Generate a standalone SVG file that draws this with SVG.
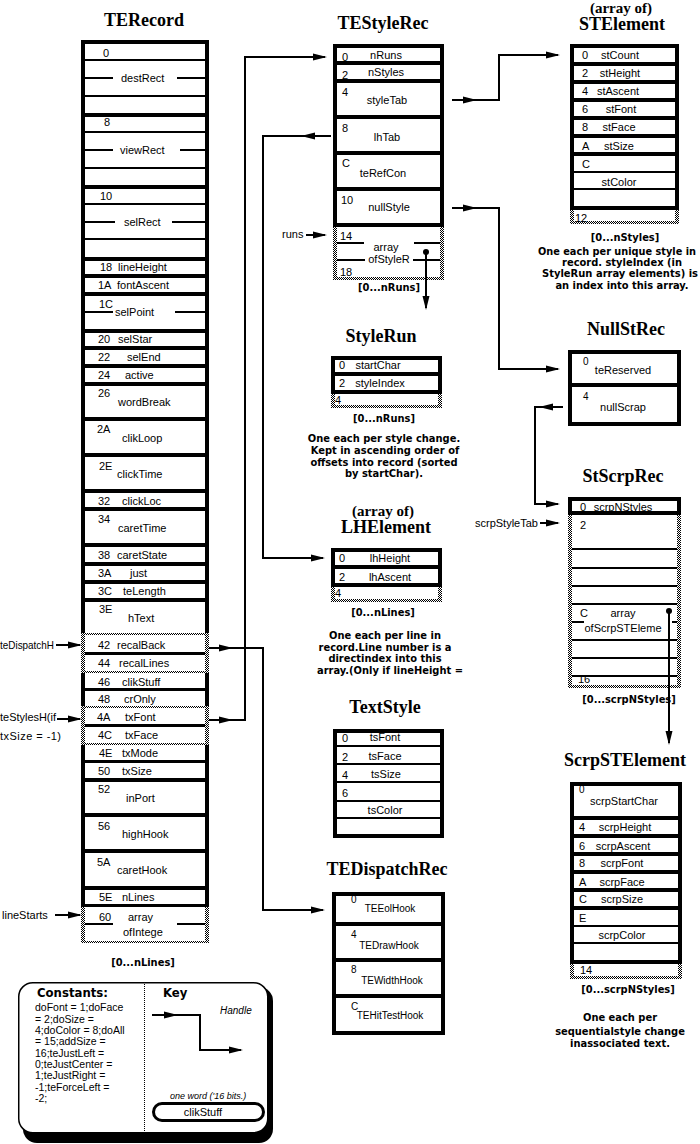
<svg xmlns="http://www.w3.org/2000/svg" width="700" height="1144" viewBox="0 0 700 1144">
<defs>
<pattern id="g" width="2" height="2" patternUnits="userSpaceOnUse"><rect width="1" height="1" fill="#000"/><rect x="1" y="1" width="1" height="1" fill="#000"/></pattern>
<path id="ah" d="M0,0 L-14,-3.5 L-14,3.5 Z"/>
</defs>
<style>
text{font-family:"Liberation Sans",Arial,sans-serif;font-size:11px;fill:#000}
.m{text-anchor:middle}
.s10{font-size:10px}
.ti{font-family:"Liberation Serif","Times New Roman",serif;font-weight:bold;font-size:18px;text-anchor:middle}
.sub{font-size:15px}
.b{font-family:"DejaVu Sans Condensed","DejaVu Sans",sans-serif;font-weight:bold;font-size:11px;text-anchor:middle}
.gy{fill:url(#g)}
.ln{fill:none;stroke:#000;stroke-width:2}
.bx{fill:none;stroke:#000;stroke-width:4}
.it{font-style:italic}
.c{font-size:10.5px}
</style>
<rect width="700" height="1144" fill="#fff"/>

<g id="TERecord">
<text class="ti" x="144" y="26">TERecord</text>
<rect x="81" y="40" width="128" height="4"/>
<rect x="81" y="40" width="4" height="593"/><rect x="205" y="40" width="4" height="593"/>
<rect x="81" y="673" width="4" height="33"/><rect x="205" y="673" width="4" height="33"/>
<rect x="81" y="745" width="4" height="162"/><rect x="205" y="745" width="4" height="162"/>
<rect class="gy" x="81" y="633" width="4" height="40"/><rect class="gy" x="205" y="633" width="4" height="40"/>
<rect class="gy" x="81" y="706" width="4" height="39"/><rect class="gy" x="205" y="706" width="4" height="39"/>
<rect class="gy" x="81" y="907" width="4" height="36"/><rect class="gy" x="205" y="907" width="4" height="36"/>
<rect class="gy" x="81" y="633" width="128" height="2"/>
<rect class="gy" x="81" y="671" width="128" height="2"/>
<rect class="gy" x="81" y="706" width="128" height="2"/>
<rect class="gy" x="81" y="743" width="128" height="2"/>
<rect class="gy" x="81" y="941" width="128" height="2"/>
<rect x="81" y="113" width="128" height="4"/><rect x="81" y="185" width="128" height="4"/>
<rect x="81" y="257" width="128" height="4"/><rect x="81" y="274" width="128" height="4"/>
<rect x="81" y="292" width="128" height="4"/><rect x="81" y="329" width="128" height="4"/>
<rect x="81" y="346" width="128" height="4"/><rect x="81" y="364" width="128" height="4"/>
<rect x="81" y="382" width="128" height="4"/><rect x="81" y="417" width="128" height="4"/>
<rect x="81" y="453" width="128" height="4"/><rect x="81" y="489" width="128" height="4"/>
<rect x="81" y="507" width="128" height="4"/><rect x="81" y="543" width="128" height="4"/>
<rect x="81" y="562" width="128" height="4"/><rect x="81" y="580" width="128" height="4"/>
<rect x="81" y="598" width="128" height="4"/><rect x="81" y="688" width="128" height="3"/>
<rect x="81" y="760" width="128" height="3"/><rect x="81" y="778" width="128" height="4"/>
<rect x="81" y="813" width="128" height="4"/><rect x="81" y="849" width="128" height="4"/>
<rect x="81" y="886" width="128" height="4"/><rect x="81" y="904" width="128" height="3"/>
<rect x="85" y="652" width="120" height="3"/><rect x="85" y="724" width="120" height="3"/>
<rect x="85" y="59" width="120" height="2"/><rect x="85" y="95" width="120" height="2"/>
<rect x="85" y="131" width="120" height="2"/><rect x="85" y="167" width="120" height="2"/>
<rect x="85" y="203" width="120" height="2"/><rect x="85" y="238" width="120" height="2"/>
<rect x="85" y="77" width="28" height="2"/><rect x="177" y="77" width="28" height="2"/>
<rect x="85" y="149" width="28" height="2"/><rect x="180" y="149" width="25" height="2"/>
<rect x="85" y="221" width="30" height="2"/><rect x="172" y="221" width="33" height="2"/>
<rect x="85" y="311" width="28" height="2"/><rect x="175" y="311" width="30" height="2"/>
<rect x="85" y="923" width="28" height="2"/><rect x="177" y="923" width="28" height="2"/>
<text x="103" y="57">0</text><text x="121" y="82">destRect</text>
<text x="104" y="126">8</text><text x="120" y="154">viewRect</text>
<text x="100" y="200">10</text><text x="124" y="226">selRect</text>
<text x="100" y="271">18</text><text x="118" y="271">lineHeight</text>
<text x="98" y="289">1A</text><text x="117" y="289">fontAscent</text>
<text x="99" y="308">1C</text><text x="115" y="316">selPoint</text>
<text x="98" y="343">20</text><text x="118" y="343">selStar</text>
<text x="98" y="361">22</text><text x="127" y="361">selEnd</text>
<text x="98" y="379">24</text><text x="125" y="379">active</text>
<text x="98" y="397">26</text><text x="118" y="406">wordBreak</text>
<text x="97" y="433">2A</text><text x="122" y="442">clikLoop</text>
<text x="99" y="470">2E</text><text x="117" y="478">clickTime</text>
<text x="98" y="505">32</text><text x="122" y="505">clickLoc</text>
<text x="98" y="523">34</text><text x="118" y="532">caretTime</text>
<text x="98" y="559">38</text><text x="117" y="559">caretState</text>
<text x="98" y="577">3A</text><text x="130" y="577">just</text>
<text x="98" y="595">3C</text><text x="123" y="595">teLength</text>
<text x="99" y="613">3E</text><text x="128" y="622">hText</text>
<text x="98" y="649">42</text><text x="117" y="649">recalBack</text>
<text x="98" y="667">44</text><text x="119" y="667">recalLines</text>
<text x="98" y="686">46</text><text x="122" y="686">clikStuff</text>
<text x="98" y="703">48</text><text x="124" y="703">crOnly</text>
<text x="97" y="721">4A</text><text x="125" y="721">txFont</text>
<text x="98" y="739">4C</text><text x="125" y="739">txFace</text>
<text x="99" y="757">4E</text><text x="122" y="757">txMode</text>
<text x="98" y="775">50</text><text x="122" y="775">txSize</text>
<text x="98" y="793">52</text><text x="126" y="802">inPort</text>
<text x="98" y="830">56</text><text x="122" y="838">highHook</text>
<text x="97" y="866">5A</text><text x="117" y="874">caretHook</text>
<text x="99" y="901">5E</text><text x="122" y="901">nLines</text>
<text x="99" y="921">60</text><text x="128" y="921">array</text>
<text x="123" y="936">ofIntege</text>
<text class="b" x="143" y="966">[0...nLines]</text>
<text x="0" y="649" textLength="54" lengthAdjust="spacingAndGlyphs">teDispatchH</text>
<text x="0" y="721" textLength="56" lengthAdjust="spacingAndGlyphs">teStylesH(if</text>
<text x="0" y="740" textLength="61" lengthAdjust="spacing">txSize = -1)</text>
<text x="2" y="919">lineStarts</text>
</g>

<g id="TEStyleRec">
<text class="ti" x="383" y="29">TEStyleRec</text>
<rect x="333" y="44" width="111" height="4"/>
<rect x="333" y="44" width="4" height="183"/><rect x="440" y="44" width="4" height="183"/>
<rect x="333" y="61" width="111" height="4"/><rect x="333" y="79" width="111" height="4"/>
<rect x="333" y="115" width="111" height="4"/><rect x="333" y="151" width="111" height="4"/>
<rect x="333" y="187" width="111" height="4"/><rect x="333" y="223" width="111" height="4"/>
<rect class="gy" x="333" y="227" width="4" height="53"/><rect class="gy" x="440" y="227" width="4" height="53"/>
<rect class="gy" x="333" y="277" width="111" height="3"/>
<rect x="337" y="242" width="27" height="2"/><rect x="414" y="242" width="26" height="2"/>
<rect x="337" y="259" width="28" height="2"/><rect x="413" y="259" width="27" height="2"/>
<text x="342" y="61">0</text><text class="m" x="386" y="59">nRuns</text>
<text x="342" y="79">2</text><text class="m" x="386" y="76">nStyles</text>
<text x="342" y="96">4</text><text class="m" x="387" y="104">styleTab</text>
<text x="342" y="132">8</text><text class="m" x="387" y="141">lhTab</text>
<text x="342" y="167">C</text><text class="m" x="383" y="177">teRefCon</text>
<text x="341" y="204">10</text><text class="m" x="389" y="211">nullStyle</text>
<text x="340" y="240">14</text><text class="m" x="386" y="251">array</text>
<text class="m" x="389" y="263">ofStyleR</text>
<text x="340" y="276">18</text>
<text class="b" x="389" y="291">[0...nRuns]</text>
<text x="282" y="238">runs</text>
</g>

<g id="STElement">
<text class="ti sub" x="621" y="13">(array of)</text>
<text class="ti" x="622" y="30">STElement</text>
<rect x="570" y="44" width="109" height="4"/>
<rect x="570" y="44" width="4" height="166"/><rect x="675" y="44" width="4" height="166"/>
<rect x="570" y="62" width="109" height="4"/><rect x="570" y="80" width="109" height="4"/>
<rect x="570" y="98" width="109" height="4"/><rect x="570" y="116" width="109" height="4"/>
<rect x="570" y="134" width="109" height="4"/><rect x="570" y="152" width="109" height="4"/>
<rect x="574" y="171" width="101" height="2"/><rect x="574" y="188" width="101" height="2"/>
<rect x="570" y="206" width="109" height="4"/>
<rect class="gy" x="570" y="210" width="4" height="14"/><rect class="gy" x="675" y="210" width="4" height="14"/>
<rect class="gy" x="570" y="221" width="109" height="3"/>
<text x="582" y="59">0</text><text class="m" x="620" y="59">stCount</text>
<text x="582" y="77">2</text><text class="m" x="620" y="77">stHeight</text>
<text x="582" y="95">4</text><text class="m" x="618" y="95">stAscent</text>
<text x="582" y="113">6</text><text class="m" x="621" y="113">stFont</text>
<text x="582" y="131">8</text><text class="m" x="619" y="131">stFace</text>
<text x="582" y="150">A</text><text class="m" x="619" y="150">stSize</text>
<text x="582" y="168">C</text><text class="m" x="619" y="186">stColor</text>
<text x="575" y="222">12</text>
<text class="b" x="625" y="241">[0...nStyles]</text>
<text class="b" x="617" y="255" textLength="158" lengthAdjust="spacingAndGlyphs">One each per unique style in</text>
<text class="b" x="622" y="266">record. styleIndex (in</text>
<text class="b" x="620" y="277" textLength="156" lengthAdjust="spacingAndGlyphs">StyleRun array elements) is</text>
<text class="b" x="622" y="289">an index into this array.</text>
</g>

<g id="StyleRun">
<text class="ti" x="381" y="342">StyleRun</text>
<rect x="331" y="356" width="111" height="4"/>
<rect x="331" y="356" width="4" height="38"/><rect x="438" y="356" width="4" height="38"/>
<rect x="331" y="372" width="111" height="4"/><rect x="331" y="390" width="111" height="4"/>
<rect class="gy" x="331" y="394" width="4" height="14"/><rect class="gy" x="438" y="394" width="4" height="14"/>
<rect class="gy" x="331" y="405" width="111" height="3"/>
<text x="339" y="369">0</text><text class="m" x="378" y="369">startChar</text>
<text x="339" y="387">2</text><text class="m" x="380" y="387">styleIndex</text>
<text x="335" y="404">4</text>
<text class="b" x="384" y="422">[0...nRuns]</text>
<text class="b" x="384" y="442">One each per style change.</text>
<text class="b" x="385" y="454">Kept in ascending order of</text>
<text class="b" x="384" y="466">offsets into record (sorted</text>
<text class="b" x="384" y="477">by startChar).</text>
</g>

<g id="LHElement">
<text class="ti sub" x="383" y="516">(array of)</text>
<text class="ti" x="386" y="533">LHElement</text>
<rect x="331" y="548" width="111" height="4"/>
<rect x="331" y="548" width="4" height="39"/><rect x="438" y="548" width="4" height="39"/>
<rect x="331" y="565" width="111" height="4"/><rect x="331" y="583" width="111" height="4"/>
<rect class="gy" x="331" y="587" width="4" height="15"/><rect class="gy" x="438" y="587" width="4" height="15"/>
<rect class="gy" x="331" y="599" width="111" height="3"/>
<text x="339" y="562">0</text><text class="m" x="390" y="562">lhHeight</text>
<text x="339" y="581">2</text><text class="m" x="390" y="581">lhAscent</text>
<text x="335" y="597">4</text>
<text class="b" x="383" y="616">[0...nLines]</text>
<text class="b" x="385" y="639">One each per line in</text>
<text class="b" x="385" y="651">record.Line number is a</text>
<text class="b" x="385" y="662">directindex into this</text>
<text class="b" x="390" y="674">array.(Only if lineHeight =</text>
</g>

<g id="TextStyle">
<text class="ti" x="385" y="713">TextStyle</text>
<rect class="bx" x="335" y="731" width="107" height="105"/>
<rect x="335" y="745" width="107" height="2"/><rect x="335" y="763" width="107" height="2"/>
<rect x="335" y="781" width="107" height="2"/><rect x="335" y="800" width="107" height="2"/>
<rect x="335" y="817" width="107" height="2"/>
<text x="342" y="742">0</text><text class="m" x="385" y="741">tsFont</text>
<text x="342" y="761">2</text><text class="m" x="385" y="760">tsFace</text>
<text x="342" y="779">4</text><text class="m" x="386" y="778">tsSize</text>
<text x="342" y="797">6</text><text class="m" x="385" y="814">tsColor</text>
</g>

<g id="TEDispatchRec">
<text class="ti" x="387" y="875">TEDispatchRec</text>
<rect class="bx" x="334" y="894" width="109" height="139"/>
<rect x="332" y="922" width="113" height="4"/><rect x="332" y="958" width="113" height="4"/>
<rect x="332" y="994" width="113" height="4"/>
<text class="s10" x="351" y="903">0</text><text class="m s10" x="390" y="912">TEEolHook</text>
<text class="s10" x="351" y="938">4</text><text class="m s10" x="389" y="949">TEDrawHook</text>
<text class="s10" x="351" y="973">8</text><text class="m s10" x="392" y="984">TEWidthHook</text>
<text class="s10" x="351" y="1010">C</text><text class="m s10" x="390" y="1019">TEHitTestHook</text>
</g>

<g id="NullStRec">
<text class="ti" x="626" y="335">NullStRec</text>
<rect class="bx" x="570" y="352" width="109" height="72"/>
<rect x="568" y="383" width="113" height="4"/>
<text class="s10" x="583" y="365">0</text><text class="m" x="623" y="374">teReserved</text>
<text class="s10" x="583" y="400">4</text><text class="m" x="623" y="411">nullScrap</text>
</g>

<g id="StScrpRec">
<text class="ti" x="623" y="482">StScrpRec</text>
<rect x="568" y="497" width="113" height="4"/>
<rect x="568" y="497" width="4" height="18"/><rect x="677" y="497" width="4" height="18"/>
<rect x="568" y="511" width="113" height="4"/>
<rect class="gy" x="568" y="515" width="4" height="173"/><rect class="gy" x="677" y="515" width="4" height="173"/>
<rect class="gy" x="568" y="685" width="113" height="3"/>
<rect x="572" y="548" width="105" height="2"/><rect x="572" y="567" width="105" height="2"/>
<rect x="572" y="585" width="105" height="2"/><rect x="572" y="603" width="105" height="2"/>
<rect x="572" y="639" width="105" height="2"/><rect x="572" y="657" width="105" height="2"/>
<rect x="572" y="675" width="105" height="2"/>
<rect x="572" y="621" width="12" height="2"/><rect x="672" y="621" width="5" height="2"/>
<text x="580" y="511">0</text><text class="m" x="623" y="511">scrpNStyles</text>
<text x="580" y="529">2</text>
<text x="580" y="617">C</text><text class="m" x="623" y="617">array</text>
<text class="m" x="623" y="632">ofScrpSTEleme</text>
<text x="578" y="683">16</text>
<text class="b" x="629" y="703">[0...scrpNStyles]</text>
<text x="475" y="527">scrpStyleTab</text>
</g>

<g id="ScrpSTElement">
<text class="ti" x="625" y="766">ScrpSTElement</text>
<rect class="bx" x="572" y="784" width="108" height="178"/>
<rect x="570" y="816" width="112" height="4"/><rect x="570" y="834" width="112" height="4"/>
<rect x="570" y="852" width="112" height="4"/><rect x="570" y="870" width="112" height="4"/>
<rect x="570" y="888" width="112" height="4"/><rect x="570" y="906" width="112" height="4"/>
<rect x="574" y="925" width="104" height="2"/><rect x="574" y="942" width="104" height="2"/>
<rect class="gy" x="570" y="964" width="4" height="15"/><rect class="gy" x="678" y="964" width="4" height="15"/>
<rect class="gy" x="570" y="976" width="112" height="3"/>
<text class="s10" x="579" y="793">0</text><text class="m" x="624" y="805">scrpStartChar</text>
<text x="579" y="831">4</text><text class="m" x="625" y="831">scrpHeight</text>
<text x="579" y="850">6</text><text class="m" x="623" y="850">scrpAscent</text>
<text x="579" y="867">8</text><text class="m" x="622" y="867">scrpFont</text>
<text x="579" y="886">A</text><text class="m" x="622" y="886">scrpFace</text>
<text x="579" y="903">C</text><text class="m" x="622" y="903">scrpSize</text>
<text x="579" y="922">E</text><text class="m" x="622" y="939">scrpColor</text>
<text x="580" y="974">14</text>
<text class="b" x="628" y="993">[0...scrpNStyles]</text>
<text class="b" x="620" y="1021">One each per</text>
<text class="b" x="620" y="1035">sequentialstyle change</text>
<text class="b" x="620" y="1047">inassociated text.</text>
</g>

<g id="connectors">
<path class="ln" d="M56,645 H80"/><use href="#ah" transform="translate(82,645)"/>
<path class="ln" d="M57,719 H80"/><use href="#ah" transform="translate(82,719)"/>
<path class="ln" d="M55,915 H80"/><use href="#ah" transform="translate(82,915)"/>
<path class="ln" d="M209,648 H263 V910 H323"/><use href="#ah" transform="translate(233,648)"/><use href="#ah" transform="translate(325,910)"/>
<path class="ln" d="M209,720 H245 V57 H325"/><use href="#ah" transform="translate(233,720)"/><use href="#ah" transform="translate(327,57)"/>
<path class="ln" d="M331,136 H263 V558 H323"/><use href="#ah" transform="translate(301,136) rotate(180)"/><use href="#ah" transform="translate(325,558)"/>
<path class="ln" d="M452,100 H499 V55 H558"/><use href="#ah" transform="translate(477,100)"/><use href="#ah" transform="translate(560,55)"/>
<path class="ln" d="M452,208 H499 V369 H558"/><use href="#ah" transform="translate(477,208)"/><use href="#ah" transform="translate(560,369)"/>
<path class="ln" d="M306,235 H325"/><use href="#ah" transform="translate(327,235)"/>
<circle cx="426" cy="252" r="3"/><path class="ln" d="M426,252 V308"/><use href="#ah" transform="translate(426,310) rotate(90)"/>
<path class="ln" d="M563,407 H535 V504 H558"/><use href="#ah" transform="translate(539,407) rotate(180)"/><use href="#ah" transform="translate(560,504)"/>
<path class="ln" d="M540,523 H558"/><use href="#ah" transform="translate(560,523)"/>
<circle cx="669" cy="611" r="3"/><path class="ln" d="M669,611 V743"/><use href="#ah" transform="translate(669,745) rotate(90)"/>
</g>

<g id="legend">
<rect x="23" y="987" width="250" height="156" rx="14" fill="#000"/>
<rect x="18.75" y="982.75" width="249" height="150" rx="14" fill="#fff" stroke="#000" stroke-width="1.5"/>
<line x1="144.5" y1="984" x2="144.5" y2="1132" stroke="#000" stroke-width="1" stroke-dasharray="1 1"/>
<text class="b" x="37" y="997" style="font-size:13px;text-anchor:start">Constants:</text>
<text class="c" x="35" y="1011">doFont = 1;doFace</text>
<text class="c" x="35" y="1023">= 2;doSize =</text>
<text class="c" x="35" y="1034">4;doColor = 8;doAll</text>
<text class="c" x="35" y="1045">= 15;addSize =</text>
<text class="c" x="35" y="1057">16;teJustLeft  =</text>
<text class="c" x="35" y="1068">0;teJustCenter =</text>
<text class="c" x="35" y="1079">1;teJustRight =</text>
<text class="c" x="35" y="1091">-1;teForceLeft =</text>
<text class="c" x="35" y="1102">-2;</text>
<text class="b" x="163" y="997" style="font-size:13px;text-anchor:start">Key</text>
<text class="it s10" x="220" y="1014">Handle</text>
<path class="ln" d="M152,1015 H200 V1050 H241"/><use href="#ah" transform="translate(178,1015)"/><use href="#ah" transform="translate(243,1050)"/>
<text class="it" x="170" y="1099" style="font-size:9px">one word ('16 bits.)</text>
<rect x="153.5" y="1103.5" width="110" height="17" rx="8.5" fill="#fff" stroke="#000" stroke-width="3"/>
<text class="m" x="203" y="1116">clikStuff</text>
</g>
</svg>
